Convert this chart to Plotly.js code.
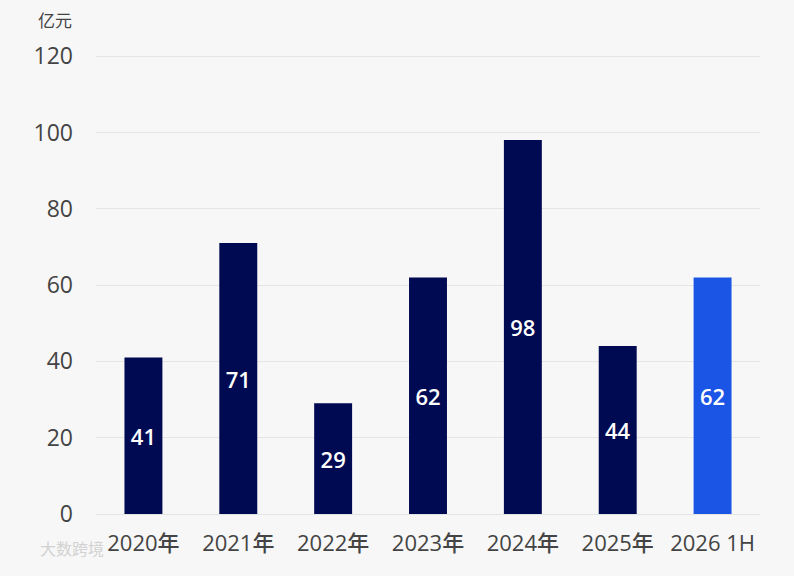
<!DOCTYPE html>
<html>
<head>
<meta charset="utf-8">
<script src="https://cdn.plot.ly/plotly-3.0.1.min.js"></script>
<style>html,body{margin:0;padding:0;background:#f7f7f7;}#chart{width:794px;height:576px;}</style>
</head>
<body>
<div id="chart"></div>
<script>
var categories = ["2020年","2021年","2022年","2023年","2024年","2025年","2026 1H"];
var values = [41, 71, 29, 62, 98, 44, 62];
var yTicks = [0, 20, 40, 60, 80, 100, 120];

var colors = categories.map(function(c, i){ return i === categories.length - 1 ? "#1b55e6" : "#000a52"; });

var font = "'Open Sans', 'Noto Sans CJK SC', sans-serif";
var cjk = "'Noto Sans CJK SC', 'Noto Sans', sans-serif";

var trace = {
  type: "bar",
  x: categories,
  y: values,
  marker: {color: colors},
  text: values.map(String),
  textposition: "inside",
  insidetextanchor: "middle",
  textangle: 0,
  textfont: {color: "#ffffff", size: 22, family: font, weight: 600},
  hoverinfo: "none"
};

var layout = {
  width: 794, height: 576,
  paper_bgcolor: "#f7f7f7",
  plot_bgcolor: "#f7f7f7",
  margin: {l: 96, r: 34, t: 55, b: 62},
  bargap: 0.6,
  showlegend: false,
  font: {family: font, color: "#444444"},
  xaxis: {
    type: "category",
    tickfont: {size: 22, color: "#444444", family: font, weight: 500},
    ticklabelstandoff: 14,
    showgrid: false,
    zeroline: false,
    showline: false
  },
  yaxis: {
    range: [0, 120.3],
    tickvals: yTicks,
    ticktext: yTicks.map(String),
    tickfont: {size: 23, color: "#444444", family: font, weight: 500},
    ticklabelstandoff: 22,
    showgrid: true,
    gridcolor: "#e4e4e4",
    gridwidth: 1,
    zeroline: true,
    zerolinecolor: "#e4e4e4",
    zerolinewidth: 1,
    showline: false
  },
  annotations: [
    {text: "亿元", xref: "paper", yref: "paper", x: -0.033, y: 1.0, yshift: 36, xanchor: "right", yanchor: "middle", showarrow: false, font: {size: 17, color: "#444444", family: cjk}},
    {text: "大数跨境", xref: "paper", yref: "paper", x: -0.088, y: 0, yshift: -34, xanchor: "left", yanchor: "middle", showarrow: false, font: {size: 16, color: "#d2d2d2", family: cjk}}
  ]
};

Plotly.newPlot("chart", [trace], layout, {displayModeBar: false, staticPlot: true});
</script>
</body>
</html>
